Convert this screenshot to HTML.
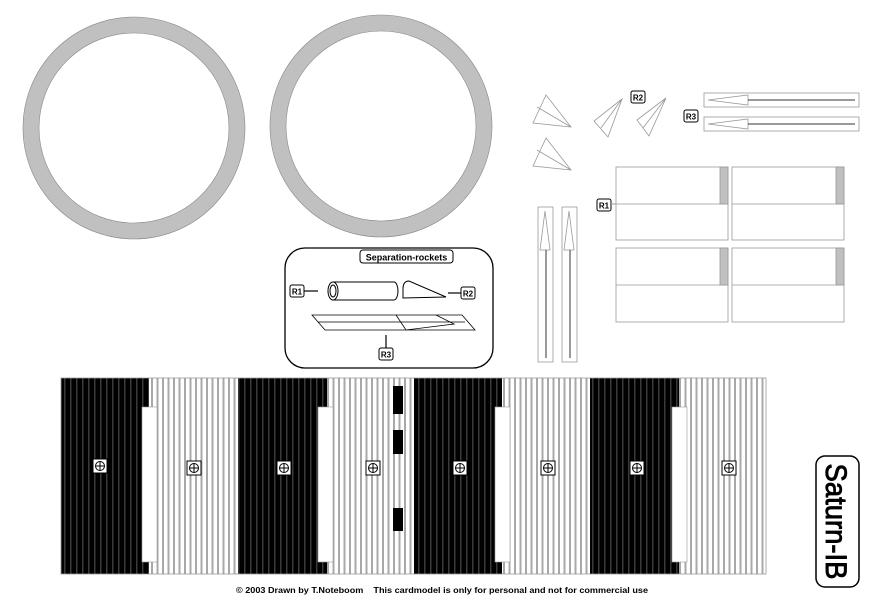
<!DOCTYPE html>
<html><head><meta charset="utf-8"><style>
html,body{margin:0;padding:0;background:#fff;width:875px;height:601px;overflow:hidden}
svg{display:block}
text{font-family:"Liberation Sans",sans-serif}
</style></head><body>
<svg width="875" height="601" viewBox="0 0 875 601" xmlns="http://www.w3.org/2000/svg">
<defs>
<pattern id="pb" x="61" y="0" width="6" height="10" patternUnits="userSpaceOnUse"><rect width="6" height="10" fill="#000"/><rect x="3" width="1.5" height="10" fill="#3a3a3a"/></pattern>
<pattern id="pw" x="149" y="0" width="5.5" height="10" patternUnits="userSpaceOnUse"><rect width="5.5" height="10" fill="#fff"/><rect x="2" width="2" height="10" fill="#a8a8a8"/></pattern>
</defs>
<!-- rings -->
<circle cx="134" cy="128" r="103" fill="none" stroke="#c0c0c0" stroke-width="16"/>
<circle cx="134" cy="128" r="111" fill="none" stroke="#888" stroke-width="0.6"/>
<circle cx="134" cy="128" r="95" fill="none" stroke="#888" stroke-width="0.6"/>
<circle cx="381" cy="126" r="103" fill="none" stroke="#c0c0c0" stroke-width="16"/>
<circle cx="381" cy="126" r="111" fill="none" stroke="#888" stroke-width="0.6"/>
<circle cx="381" cy="126" r="95" fill="none" stroke="#888" stroke-width="0.6"/>

<!-- separation rockets box -->
<rect x="285" y="248" width="208" height="120" rx="20" fill="#fff" stroke="#000" stroke-width="1.3"/>
<rect x="360" y="250" width="93" height="13" rx="3" fill="#fff" stroke="#000" stroke-width="1"/>
<text x="406.5" y="260.5" font-size="9" font-weight="bold" text-anchor="middle">Separation-rockets</text>
<rect x="290" y="285" width="14" height="12" rx="2" fill="#fff" stroke="#000"/><text x="297" y="294.5" font-size="8" font-weight="bold" text-anchor="middle">R1</text>
<line x1="304" y1="291" x2="318" y2="291" stroke="#000" stroke-width="1.2"/>
<path d="M333,282h61a4,9 0 0 1 0,18h-61z" fill="#fff" stroke="#000"/>
<ellipse cx="333" cy="291" rx="5" ry="9" fill="#fff" stroke="#000"/><ellipse cx="333" cy="291" rx="3" ry="6" fill="none" stroke="#000"/>
<path d="M403,298v-9q0,-8 6,-8l37,16z" fill="#fff" stroke="#000"/>
<line x1="448" y1="293" x2="461" y2="293" stroke="#000" stroke-width="1.2"/>
<rect x="461" y="287" width="14" height="12" rx="2" fill="#fff" stroke="#000"/><text x="468" y="296.5" font-size="8" font-weight="bold" text-anchor="middle">R2</text>
<path d="M312,315h150l13,15h-150z M318,322h147 M396,315l10,15l48,-6l-18,-9z" fill="#fff" stroke="#000" stroke-width="0.8"/>
<line x1="386" y1="335" x2="386" y2="348" stroke="#000" stroke-width="1.2"/>
<rect x="379" y="348" width="14" height="12" rx="2" fill="#fff" stroke="#000"/><text x="386" y="357.5" font-size="8" font-weight="bold" text-anchor="middle">R3</text>

<!-- cones -->
<g fill="none" stroke="#999" stroke-width="0.8">
<path d="M546,95l25,32l-38,-4z M537,107l34,20"/>
<path d="M546,138l25,32l-38,-4z M537,150l34,20"/>
<path d="M622,99l-28,22l14,16z M601,128l21,-29"/>
<path d="M666,98l-29,22l12,16z M643,128l23,-30"/>
</g>
<rect x="631" y="91" width="14" height="12" rx="2" fill="#fff" stroke="#000"/><text x="638" y="100.5" font-size="8" font-weight="bold" text-anchor="middle">R2</text>
<rect x="684" y="110" width="14" height="12" rx="2" fill="#fff" stroke="#000"/><text x="691" y="119.5" font-size="8" font-weight="bold" text-anchor="middle">R3</text>
<g fill="none" stroke="#999" stroke-width="0.8">
<rect x="704" y="93" width="155" height="14"/><path d="M708,100l40,-5v10z"/>
<rect x="704" y="117" width="155" height="14"/><path d="M708,124l40,-5v10z"/>
<rect x="538" y="207" width="15" height="155"/><path d="M545,211l-5,39h10z"/>
<rect x="562" y="207" width="15" height="155"/><path d="M569,211l-5,39h10z"/>
</g>
<g stroke="#333" stroke-width="1"><line x1="748" y1="100" x2="855" y2="100"/><line x1="748" y1="124" x2="855" y2="124"/><line x1="546" y1="250" x2="546" y2="358"/><line x1="570" y1="250" x2="570" y2="358"/></g>

<!-- R1 panels -->
<g fill="#fff" stroke="#999" stroke-width="0.8">
<rect x="616" y="167" width="112" height="73"/><line x1="616" y1="204" x2="728" y2="204"/>
<rect x="732" y="167" width="112" height="73"/><line x1="732" y1="204" x2="844" y2="204"/>
<rect x="616" y="248" width="112" height="74"/><line x1="616" y1="285" x2="728" y2="285"/>
<rect x="732" y="248" width="112" height="74"/><line x1="732" y1="285" x2="844" y2="285"/>
</g>
<g fill="#c0c0c0" stroke="#999" stroke-width="0.8">
<rect x="720" y="167" width="8" height="37"/><rect x="836" y="167" width="8" height="37"/>
<rect x="720" y="248" width="8" height="37"/><rect x="836" y="248" width="8" height="37"/>
</g>
<rect x="597" y="199" width="14" height="12" rx="2" fill="#fff" stroke="#000"/><text x="604" y="208.5" font-size="8" font-weight="bold" text-anchor="middle">R1</text>
<line x1="611" y1="204" x2="616" y2="204" stroke="#999"/>

<!-- main strip -->
<rect x="61" y="378" width="88" height="196" fill="url(#pb)"/>
<rect x="149" y="378" width="89" height="196" fill="url(#pw)"/>
<rect x="238" y="378" width="89" height="196" fill="url(#pb)"/>
<rect x="327" y="378" width="87" height="196" fill="url(#pw)"/>
<rect x="414" y="378" width="88" height="196" fill="url(#pb)"/>
<rect x="502" y="378" width="88" height="196" fill="url(#pw)"/>
<rect x="590" y="378" width="89" height="196" fill="url(#pb)"/>
<rect x="679" y="378" width="87" height="196" fill="url(#pw)"/>
<rect x="61" y="378" width="705" height="196" fill="none" stroke="#999" stroke-width="0.8"/>
<g fill="#fff" stroke="#999" stroke-width="0.6">
<rect x="142" y="407" width="15" height="155"/><rect x="318" y="407" width="15" height="155"/>
<rect x="495" y="407" width="15" height="155"/><rect x="672" y="407" width="15" height="155"/>
</g>
<g fill="#000"><rect x="393" y="386" width="10" height="28"/><rect x="393" y="430" width="10" height="24"/><rect x="393" y="508" width="10" height="23"/></g>
<g fill="#fff" stroke="#000" stroke-width="1">
<g transform="translate(100,466)"><rect x="-7" y="-7" width="14" height="14"/><circle r="4.5" fill="none"/><path d="M0,-4.5v9M-4.5,0h9" fill="none"/></g>
<g transform="translate(194,468)"><rect x="-7" y="-7" width="14" height="14"/><circle r="4.5" fill="none"/><path d="M0,-4.5v9M-4.5,0h9" fill="none"/></g>
<g transform="translate(284,468)"><rect x="-7" y="-7" width="14" height="14"/><circle r="4.5" fill="none"/><path d="M0,-4.5v9M-4.5,0h9" fill="none"/></g>
<g transform="translate(373,468)"><rect x="-7" y="-7" width="14" height="14"/><circle r="4.5" fill="none"/><path d="M0,-4.5v9M-4.5,0h9" fill="none"/></g>
<g transform="translate(460,468)"><rect x="-7" y="-7" width="14" height="14"/><circle r="4.5" fill="none"/><path d="M0,-4.5v9M-4.5,0h9" fill="none"/></g>
<g transform="translate(548,468)"><rect x="-7" y="-7" width="14" height="14"/><circle r="4.5" fill="none"/><path d="M0,-4.5v9M-4.5,0h9" fill="none"/></g>
<g transform="translate(637,468)"><rect x="-7" y="-7" width="14" height="14"/><circle r="4.5" fill="none"/><path d="M0,-4.5v9M-4.5,0h9" fill="none"/></g>
<g transform="translate(729,468)"><rect x="-7" y="-7" width="14" height="14"/><circle r="4.5" fill="none"/><path d="M0,-4.5v9M-4.5,0h9" fill="none"/></g>
</g>

<!-- Saturn-IB -->
<rect x="816" y="456" width="43" height="131" rx="9" fill="#fff" stroke="#000" stroke-width="1.5"/>
<text transform="translate(826,521.5) rotate(90)" font-size="30" text-anchor="middle" font-family="'Liberation Sans Narrow','Liberation Sans',sans-serif" stroke="#000" stroke-width="0.9" textLength="116" lengthAdjust="spacingAndGlyphs">Saturn-IB</text>

<text x="236" y="593" font-size="8.5" font-weight="bold" textLength="412" lengthAdjust="spacingAndGlyphs" xml:space="preserve">© 2003 Drawn by T.Noteboom    This cardmodel is only for personal and not for commercial use</text>
</svg>
</body></html>
